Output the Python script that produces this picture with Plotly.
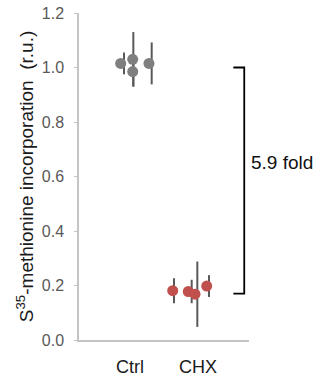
import plotly.graph_objects as go

# ---- data ----
categories = ["Ctrl", "CHX"]
ctrl_values = [1.015, 1.03, 0.985, 1.015]
ctrl_errors = [0.04, 0.10, 0.055, 0.077]
chx_values = [0.181, 0.178, 0.168, 0.198]
chx_errors = [0.046, 0.043, 0.12, 0.04]
# horizontal jitter of replicate points (category units)
ctrl_jitter = [-0.137, 0.040, 0.040, 0.279]
ctrl_bar_jitter = [-0.088, 0.049, 0.049, 0.319]
chx_jitter = [-0.372, -0.143, -0.044, 0.128]
chx_bar_jitter = [-0.353, -0.093, -0.010, 0.162]
bracket_top = 1.0
bracket_bottom = 0.17
fold_label = "5.9 fold"
y_ticks = [0.0, 0.2, 0.4, 0.6, 0.8, 1.0, 1.2]

FONT = "Liberation Sans, Arial, sans-serif"
fig = go.Figure()

groups = [
    (0, ctrl_values, ctrl_errors, ctrl_jitter, ctrl_bar_jitter, "#7f7f7f"),
    (1, chx_values, chx_errors, chx_jitter, chx_bar_jitter, "#c0504d"),
]
for idx, vals, errs, jit, bjit, col in groups:
    fig.add_trace(go.Scatter(
        x=[idx + j for j in bjit], y=vals, mode="markers",
        marker=dict(size=1, color="rgba(0,0,0,0)"),
        error_y=dict(type="data", array=errs, visible=True, color="#595959",
                     thickness=2, width=0),
        showlegend=False, hoverinfo="skip"))
for idx, vals, errs, jit, bjit, col in groups:
    fig.add_trace(go.Scatter(
        x=[idx + j for j in jit], y=vals, mode="markers",
        marker=dict(size=11, color=col, line=dict(width=0)),
        showlegend=False))

# bracket
bx0, bx1 = 0.908, 0.972
fig.add_shape(type="path",
              path=f"M {bx0} {bracket_top} L {bx1} {bracket_top} L {bx1} {bracket_bottom} L {bx0} {bracket_bottom}",
              xref="paper", yref="y", line=dict(color="#000000", width=1.8))
fig.add_annotation(x=1.0, xref="paper", y=0.652, yref="y", text=fold_label,
                   showarrow=False, xanchor="left", yanchor="middle",
                   font=dict(family=FONT, size=19, color="#111111"))

fig.update_layout(
    width=325, height=381,
    margin=dict(l=79, r=76, t=13, b=41, autoexpand=False),
    paper_bgcolor="white", plot_bgcolor="white",
    font=dict(family=FONT),
    xaxis=dict(range=[-0.75, 1.75], tickmode="array", tickvals=[0, 1],
               ticktext=categories, showgrid=False, zeroline=False,
               showline=True, linecolor="#c4c4c4", linewidth=1.5,
               ticks="", ticklabelstandoff=10, automargin=False,
               tickfont=dict(family=FONT, size=18, color="#1a1a1a")),
    yaxis=dict(range=[0, 1.2], tickmode="array", tickvals=y_ticks,
               ticktext=[f"{v:.1f}" for v in y_ticks],
               showgrid=False, zeroline=False, showline=True,
               linecolor="#c4c4c4", linewidth=1.5, ticks="outside",
               ticklen=3, tickcolor="#c4c4c4", ticklabelstandoff=7,
               automargin=False,
               tickfont=dict(family=FONT, size=16, color="#595959"),
               title=dict(text="S<sup>35</sup>-methionine incorporation&nbsp; (r.u.)",
                          font=dict(family=FONT, size=19, color="#1a1a1a"),
                          standoff=3)),
)

fig.write_html("out.html",
               config={"displayModeBar": False},
               post_script="document.body.style.margin='0';document.body.style.padding='0';")
